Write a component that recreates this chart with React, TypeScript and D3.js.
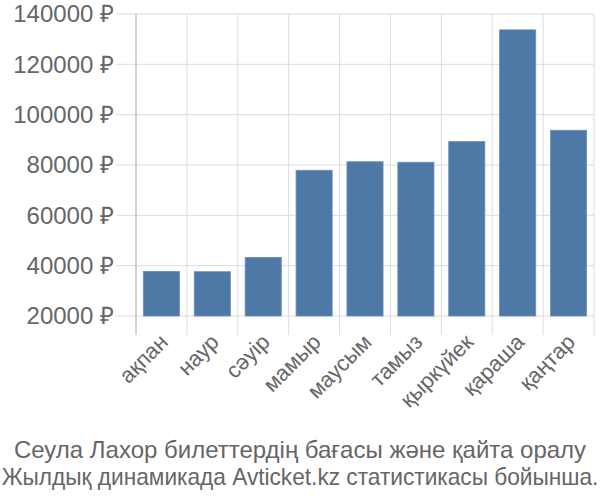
import React from "react";
import * as d3 from "d3";

const months = ["ақпан", "наур", "сәуір", "мамыр", "маусым", "тамыз", "қыркүйек", "қараша", "қаңтар"];
const prices = [37700, 37600, 43300, 77900, 81300, 81100, 89300, 133700, 93800];
const yTicks = [20000, 40000, 60000, 80000, 100000, 120000, 140000];
const titleLines = [
  "Сеула Лахор билеттердің бағасы және қайта оралу",
  "Жылдық динамикада Avticket.kz статистикасы бойынша.",
];

export default function App() {
  const W = 600, H = 500;
  const left = 136, right = 594, top = 14, bottom = 316;
  const x = d3.scaleBand<string>().domain(months).range([left, right]).padding(0);
  const y = d3.scaleLinear().domain([20000, 140000]).range([bottom, top]);
  const step = x.step();
  const barW = step * 0.71;
  const font = "'Liberation Sans', Arial, sans-serif";
  const gridColor = "#dcdcdc";
  const textColor = "#666";
  const titleScale = [1.0, 0.945];

  return (
    <svg width={W} height={H} style={{ position: "absolute", left: 0, top: 0, background: "#fff" }} fontFamily={font}>
      {yTicks.map((t) => (
        <line key={"h" + t} x1={left - 20} x2={right} y1={y(t)} y2={y(t)} stroke={gridColor} strokeWidth={1} />
      ))}
      {months.map((m, i) => (
        <line key={"v" + m} x1={x(m)!} x2={x(m)!} y1={top} y2={bottom + 19} stroke={i === 0 ? "#aaa" : gridColor} strokeWidth={1} />
      ))}
      <line x1={right} x2={right} y1={top} y2={bottom + 19} stroke={gridColor} strokeWidth={1} />
      {months.map((m, i) => (
        <rect
          key={"b" + m}
          x={x(m)! + (step - barW) / 2}
          y={y(prices[i])}
          width={barW}
          height={y(20000) - y(prices[i])}
          fill="#4e79a7"
          stroke="#6b8fb8"
          strokeWidth={0.8}
        />
      ))}
      {yTicks.map((t) => (
        <text key={"yl" + t} x={left - 22} y={y(t)} dy="0.35em" textAnchor="end" fontSize={24} fill={textColor}>
          {t} ₽
        </text>
      ))}
      {months.map((m) => {
        const cx = x(m)! + step / 2 + 2.5;
        const cy = bottom + 22;
        return (
          <text key={"xl" + m} x={cx} y={cy} textAnchor="end" fontSize={22} fill={textColor} transform={`rotate(-45 ${cx} ${cy})`} dy="0.35em">
            {m}
          </text>
        );
      })}
      {titleLines.map((l, i) => (
        <text
          key={"t" + i}
          x={0}
          y={0}
          transform={`translate(${W / 2}, ${458 + i * 27}) scale(${titleScale[i]}, 1)`}
          textAnchor="middle"
          fontSize={24}
          fill={textColor}
        >
          {l}
        </text>
      ))}
    </svg>
  );
}
